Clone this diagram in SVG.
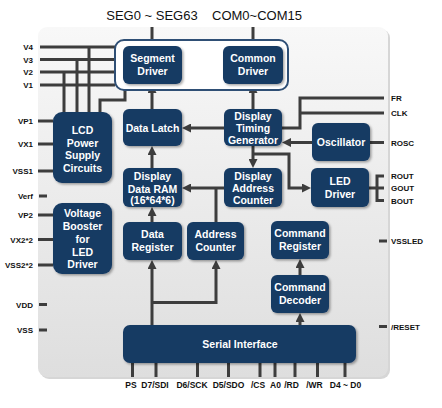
<svg xmlns="http://www.w3.org/2000/svg" width="442" height="408" viewBox="0 0 442 408">
<defs>
<linearGradient id="panelGrad" x1="0" y1="0" x2="0" y2="1">
<stop offset="0" stop-color="#f8f8f8"/>
<stop offset="1" stop-color="#dedede"/>
</linearGradient>
<filter id="sh" x="-10%" y="-10%" width="130%" height="130%">
<feDropShadow dx="1.5" dy="1.5" stdDeviation="1.2" flood-color="#000" flood-opacity="0.35"/>
</filter>
<marker id="ah" viewBox="0 0 10 10" refX="3.3" refY="5" markerWidth="9" markerHeight="9" markerUnits="userSpaceOnUse" orient="auto">
<path d="M0,0 L10,5 L0,10 z" fill="#3d3d3d"/>
</marker>
<style>
.blk{fill:#173a63;filter:url(#sh)}
.bt{fill:#fff;font-family:"Liberation Sans",Arial,sans-serif;font-weight:bold;font-size:10.5px;text-anchor:middle}
.ln{fill:none;stroke:#3d3d3d;stroke-width:3}
.arr{fill:none;stroke:#3d3d3d;stroke-width:3;marker-end:url(#ah)}
.pl{font-family:"Liberation Sans",Arial,sans-serif;font-weight:bold;font-size:8px;fill:#111}
.pr{text-anchor:end}
.pb{font-family:"Liberation Sans",Arial,sans-serif;font-weight:bold;font-size:8.5px;fill:#111;text-anchor:middle}
.top{font-family:"Liberation Sans",Arial,sans-serif;font-size:13px;fill:#111;text-anchor:middle}
</style>
</defs>
<rect width="442" height="408" fill="#fff"/>
<g id="panel">
<rect x="40" y="29" width="350" height="350" rx="9" fill="#bbb" opacity="0.6"/>
<rect x="38" y="27" width="350" height="350" rx="9" fill="url(#panelGrad)"/>
</g>
<g id="top-labels">
<text class="top" x="152" y="20">SEG0 ~ SEG63</text>
<text class="top" x="257" y="20">COM0~COM15</text>
</g>
<g id="connectors">
<!-- top outputs -->
<path class="ln" d="M152,27 V40"/>
<path class="ln" d="M253,27 V40"/>
<!-- V lines -->
<path class="ln" d="M40,47 H115 M40,59.5 H115 M40,72 H115 M40,85 H115"/>
<path class="ln" d="M89,47 V112 M77,59.5 V112 M64,72 V112"/>
<path class="ln" d="M100,112 V100 H125 V90"/>
<!-- left stubs -->
<path class="ln" d="M38,121 H53 M38,144 H53 M38,171 H53 M39,196 H47 M38,215 H53 M38,239.5 H53 M38,265 H53 M39,304.5 H47 M39,330 H47"/>
<!-- vertical data path -->
<path class="arr" d="M152,109 V90"/>
<path class="arr" d="M253,109 V90"/>
<path class="arr" d="M152,168 V152"/>
<path class="arr" d="M152,222 V213"/>
<path class="arr" d="M224,128 H188"/>
<path class="arr" d="M224,188 H188"/>
<path class="ln" d="M216,222 V188"/>
<path class="arr" d="M312,142.5 H288"/>
<path class="arr" d="M253,146 V162"/>
<path class="arr" d="M253,154 H289 V188 H305"/>
<path class="ln" d="M282,128 H300 V98 H384 M300,113 H384"/>
<path class="ln" d="M370,142.5 H384"/>
<path class="ln" d="M369,188 H377 M377,174.5 V202 M375.5,176 H384 M377,188 H384 M375.5,200.5 H384"/>
<path class="ln" d="M379,241 H387 M379,326.5 H387"/>
<path class="arr" d="M300,275 V265"/>
<path class="arr" d="M300,325 V319"/>
<path class="arr" d="M152,325 V266"/>
<path class="arr" d="M152,302.5 H216 V266"/>
<!-- bottom pins -->
<path class="ln" d="M132.5,363 V377 M156,363 V377 M197.5,363 V377 M228.5,363 V377 M260,363 V377 M275,363 V377 M295,363 V377 M317.5,363 V377 M345,363 V377"/>
</g>
<g id="driver-group">
<rect x="115" y="40" width="173" height="50" rx="9" fill="#fff" stroke="#2f4f75" stroke-width="2"/>
</g>
<g id="segment-driver">
<rect class="blk" x="123" y="46" width="59" height="38" rx="6"/>
<text class="bt" x="152.5" y="62">Segment</text>
<text class="bt" x="152.5" y="75">Driver</text>
</g>
<g id="common-driver">
<rect class="blk" x="223" y="46" width="60" height="38" rx="6"/>
<text class="bt" x="253" y="62">Common</text>
<text class="bt" x="253" y="75">Driver</text>
</g>
<g id="lcd-power">
<rect class="blk" x="53" y="112" width="59" height="71" rx="9"/>
<text class="bt" x="82.5" y="134">LCD</text>
<text class="bt" x="82.5" y="147">Power</text>
<text class="bt" x="82.5" y="159">Supply</text>
<text class="bt" x="82.5" y="172">Circuits</text>
</g>
<g id="voltage-booster">
<rect class="blk" x="53" y="203" width="59" height="71" rx="9"/>
<text class="bt" x="82.5" y="217">Voltage</text>
<text class="bt" x="82.5" y="230">Booster</text>
<text class="bt" x="82.5" y="243">for</text>
<text class="bt" x="82.5" y="256">LED</text>
<text class="bt" x="82.5" y="268">Driver</text>
</g>
<g id="data-latch">
<rect class="blk" x="123" y="109" width="59" height="37" rx="6"/>
<text class="bt" x="152.5" y="132">Data Latch</text>
</g>
<g id="display-data-ram">
<rect class="blk" x="123" y="168" width="59" height="39" rx="6"/>
<text class="bt" x="152.5" y="180">Display</text>
<text class="bt" x="152.5" y="193">Data RAM</text>
<text class="bt" x="152.5" y="204">(16*64*6)</text>
</g>
<g id="data-register">
<rect class="blk" x="123" y="222" width="59" height="38" rx="6"/>
<text class="bt" x="152.5" y="238">Data</text>
<text class="bt" x="152.5" y="251">Register</text>
</g>
<g id="address-counter">
<rect class="blk" x="187" y="222" width="57" height="38" rx="6"/>
<text class="bt" x="215.5" y="238">Address</text>
<text class="bt" x="215.5" y="251">Counter</text>
</g>
<g id="timing-generator">
<rect class="blk" x="224" y="109" width="58" height="37" rx="6"/>
<text class="bt" x="253" y="120">Display</text>
<text class="bt" x="253" y="132">Timing</text>
<text class="bt" x="253" y="144">Generator</text>
</g>
<g id="display-address-counter">
<rect class="blk" x="224" y="168" width="58" height="39" rx="6"/>
<text class="bt" x="253" y="180">Display</text>
<text class="bt" x="253" y="192">Address</text>
<text class="bt" x="253" y="204">Counter</text>
</g>
<g id="oscillator">
<rect class="blk" x="312" y="123" width="58" height="38" rx="6"/>
<text class="bt" x="341" y="146">Oscillator</text>
</g>
<g id="led-driver">
<rect class="blk" x="311" y="168" width="58" height="39" rx="6"/>
<text class="bt" x="340" y="185">LED</text>
<text class="bt" x="340" y="198">Driver</text>
</g>
<g id="command-register">
<rect class="blk" x="271" y="221" width="58" height="38" rx="6"/>
<text class="bt" x="300" y="237">Command</text>
<text class="bt" x="300" y="250">Register</text>
</g>
<g id="command-decoder">
<rect class="blk" x="271" y="275" width="58" height="38" rx="6"/>
<text class="bt" x="300" y="291">Command</text>
<text class="bt" x="300" y="304">Decoder</text>
</g>
<g id="serial-interface">
<rect class="blk" x="123" y="325" width="233" height="38" rx="7"/>
<text class="bt" x="240" y="348">Serial Interface</text>
</g>
<g id="left-pins">
<text class="pl pr" x="33" y="50">V4</text>
<text class="pl pr" x="33" y="62.5">V3</text>
<text class="pl pr" x="33" y="75">V2</text>
<text class="pl pr" x="33" y="88">V1</text>
<text class="pl pr" x="33" y="124">VP1</text>
<text class="pl pr" x="33" y="147">VX1</text>
<text class="pl pr" x="33" y="174">VSS1</text>
<text class="pl pr" x="33" y="199">Verf</text>
<text class="pl pr" x="33" y="218">VP2</text>
<text class="pl pr" x="33" y="242.5">VX2*2</text>
<text class="pl pr" x="33" y="268">VSS2*2</text>
<text class="pl pr" x="33" y="307.5">VDD</text>
<text class="pl pr" x="33" y="333">VSS</text>
</g>
<g id="right-pins">
<text class="pl" x="391" y="101">FR</text>
<text class="pl" x="391" y="116">CLK</text>
<text class="pl" x="391" y="145.5">ROSC</text>
<text class="pl" x="391" y="179">ROUT</text>
<text class="pl" x="391" y="191">GOUT</text>
<text class="pl" x="391" y="203.5">BOUT</text>
<text class="pl" x="391" y="244">VSSLED</text>
<text class="pl" x="391" y="329.5">/RESET</text>
</g>
<g id="bottom-pins">
<text class="pb" x="131" y="388">PS</text>
<text class="pb" x="155" y="388">D7/SDI</text>
<text class="pb" x="192" y="388">D6/SCK</text>
<text class="pb" x="228.5" y="388">D5/SDO</text>
<text class="pb" x="258" y="388">/CS</text>
<text class="pb" x="275.5" y="388">A0</text>
<text class="pb" x="291.5" y="388">/RD</text>
<text class="pb" x="314.5" y="388">/WR</text>
<text class="pb" x="345.5" y="388">D4 ~ D0</text>
</g>
</svg>
